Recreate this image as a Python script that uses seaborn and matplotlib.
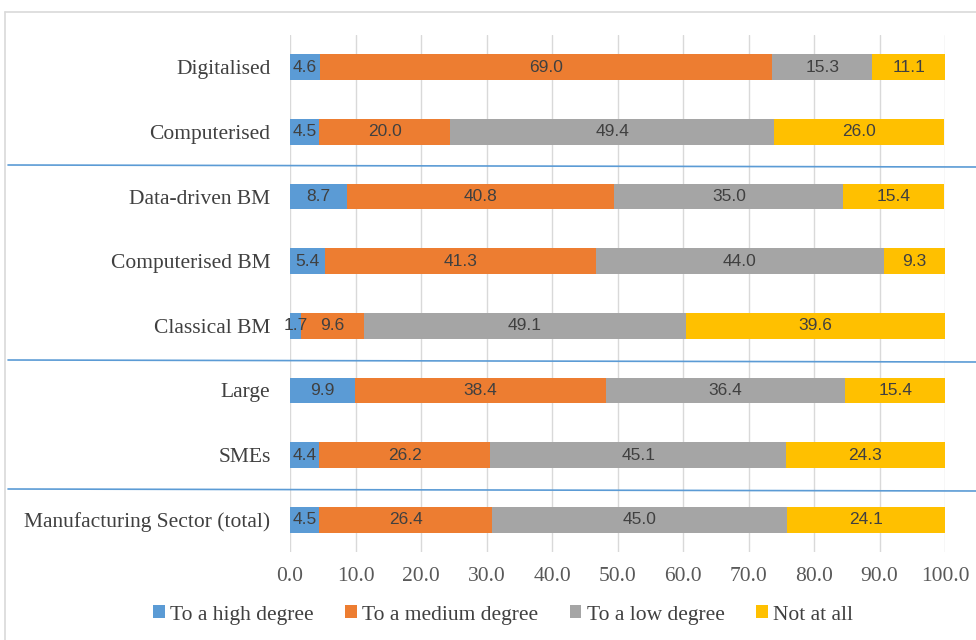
import matplotlib
matplotlib.use("Agg")
import matplotlib.pyplot as plt
from matplotlib.lines import Line2D
from matplotlib.patches import Patch
import numpy as np
import pandas as pd
import seaborn as sns

categories = ["Digitalised", "Computerised", "Data-driven BM", "Computerised BM",
              "Classical BM", "Large", "SMEs", "Manufacturing Sector (total)"]
high = [4.6, 4.5, 8.7, 5.4, 1.7, 9.9, 4.4, 4.5]
medium = [69.0, 20.0, 40.8, 41.3, 9.6, 38.4, 26.2, 26.4]
low = [15.3, 49.4, 35.0, 44.0, 49.1, 36.4, 45.1, 45.0]
not_at_all = [11.1, 26.0, 15.4, 9.3, 39.6, 15.4, 24.3, 24.1]
series_names = ["To a high degree", "To a medium degree", "To a low degree", "Not at all"]
colors = ["#5B9BD5", "#ED7D31", "#A5A5A5", "#FFC000"]
x_ticks = [0, 10, 20, 30, 40, 50, 60, 70, 80, 90, 100]

sns.set_theme(style="white")
serif = ["Liberation Serif", "DejaVu Serif"]
plt.rcParams["font.family"] = serif

fig = plt.figure(figsize=(9.76, 6.4), dpi=100)
ax = fig.add_axes([290 / 976, 1 - 552 / 640, (945 - 290) / 976, (552 - 35) / 640])

values = np.array([high, medium, low, not_at_all])
cum = np.cumsum(values, axis=0)

# Stacked bars: draw cumulative totals from the outermost segment inward
for i in range(3, -1, -1):
    df = pd.DataFrame({"category": categories, "value": cum[i]})
    sns.barplot(data=df, x="value", y="category", order=categories, color=colors[i],
                width=0.4, saturation=1, ax=ax, orient="h", linewidth=0, zorder=2)

# Segment value labels
for i in range(4):
    for j, cat in enumerate(categories):
        v = values[i, j]
        xc = cum[i, j] - v / 2
        ax.text(xc, j, f"{v:.1f}", ha="center", va="center", fontsize=12.5,
                color="#404040", family=["Liberation Sans", "DejaVu Sans"], zorder=3)

ax.set_xlim(0, 100)
ax.set_ylim(7.5, -0.5)
ax.set_xticks(x_ticks)
ax.set_xticklabels([f"{t:.1f}" for t in x_ticks], fontsize=15.5, color="#595959")
ax.tick_params(axis="y", labelsize=15.5, labelcolor="#404040", length=0, pad=14)
ax.tick_params(axis="x", length=0, pad=11)
ax.set_xlabel("")
ax.set_ylabel("")
ax.grid(axis="x", color="#D9D9D9", linewidth=1, zorder=0)
ax.grid(axis="y", visible=False)
for s in ax.spines.values():
    s.set_visible(False)
ax.set_axisbelow(True)

# Chart frame
fig.add_artist(Line2D([5 / 976, 1], [1 - 12 / 640, 1 - 12 / 640], transform=fig.transFigure,
                      color="#D9D9D9", linewidth=1.2))
fig.add_artist(Line2D([5 / 976, 5 / 976], [1 - 12 / 640, 0], transform=fig.transFigure,
                      color="#D9D9D9", linewidth=1.2))

# Group separators
for y0, y1 in [(165, 167), (360, 362), (489, 491)]:
    fig.add_artist(Line2D([8 / 976, 1], [1 - y0 / 640, 1 - y1 / 640], transform=fig.transFigure,
                          color="#5B9BD5", linewidth=1.2))

handles = [Patch(facecolor=c, edgecolor="none") for c in colors]
fig.legend(handles, series_names, loc="center", bbox_to_anchor=(503 / 976, 1 - 615 / 640),
           ncol=4, frameon=False, fontsize=15.5, handlelength=0.55, handleheight=0.55,
           handletextpad=0.25, columnspacing=1.45, labelcolor="#404040")

fig.savefig("out.png", dpi=100)
